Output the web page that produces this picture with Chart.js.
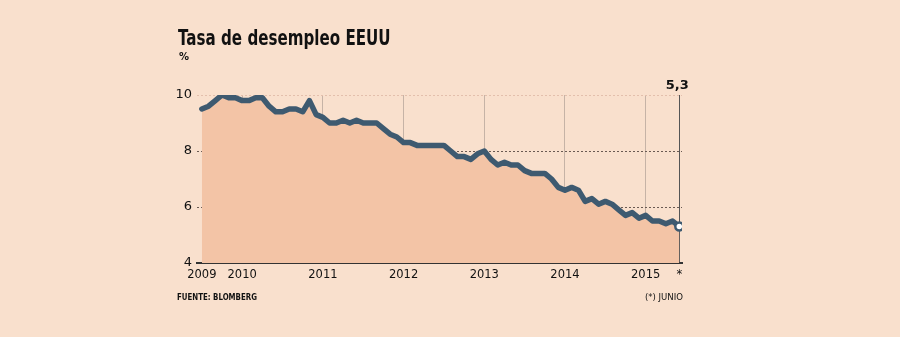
<!DOCTYPE html>
<html>
<head>
<meta charset="utf-8">
<script src="https://cdn.jsdelivr.net/npm/chart.js@4"></script>
<style>
  html, body { margin: 0; padding: 0; background: #f9e0cd; }
  #wrap { position: relative; width: 900px; height: 337px; overflow: hidden; }
  canvas { position: absolute; left: 0; top: 0; }
  .txt { position: absolute; color: #111; white-space: nowrap; font-family: 'DejaVu Sans', sans-serif; transform-origin: left top; }
  #titulo { left: 178px; top: 26px; font-size: 21px; font-weight: bold; transform: scaleX(0.72); }
  #unidad { left: 179px; top: 51px; font-size: 10px; font-weight: bold; }
  #fuente { left: 177px; top: 291px; font-size: 9.5px; font-weight: bold; transform: scaleX(0.74); }
  #nota { left: 630px; width: 53px; text-align: right; top: 291px; font-size: 9.5px; transform: scaleX(0.9); transform-origin: right top; }
</style>
</head>
<body>
<div id="wrap">
  <canvas id="myChart" width="900" height="337"></canvas>
  <div class="txt" id="titulo">Tasa de desempleo EEUU</div>
  <div class="txt" id="unidad">%</div>
  <div class="txt" id="fuente">FUENTE: BLOMBERG</div>
  <div class="txt" id="nota">(*) JUNIO</div>
</div>
<script>
// tasa de desempleo mensual, %, julio 2009 - junio 2015
const anios = [2009, 2010, 2011, 2012, 2013, 2014, 2015]
const mesInicial = [6, 0, 0, 0, 0, 0, 0]   // 2009 empieza en julio
const tasa2009 = [9.5, 9.6, 9.8, 10.0, 9.9, 9.9]
const tasa2010 = [9.8, 9.8, 9.9, 9.9, 9.6, 9.4, 9.4, 9.5, 9.5, 9.4, 9.8, 9.3]
const tasa2011 = [9.2, 9.0, 9.0, 9.1, 9.0, 9.1, 9.0, 9.0, 9.0, 8.8, 8.6, 8.5]
const tasa2012 = [8.3, 8.3, 8.2, 8.2, 8.2, 8.2, 8.2, 8.0, 7.8, 7.8, 7.7, 7.9]
const tasa2013 = [8.0, 7.7, 7.5, 7.6, 7.5, 7.5, 7.3, 7.2, 7.2, 7.2, 7.0, 6.7]
const tasa2014 = [6.6, 6.7, 6.6, 6.2, 6.3, 6.1, 6.2, 6.1, 5.9, 5.7, 5.8, 5.6]
const tasa2015 = [5.7, 5.5, 5.5, 5.4, 5.5, 5.3]
const tasas = [tasa2009, tasa2010, tasa2011, tasa2012, tasa2013, tasa2014, tasa2015]

const yTicks = [4, 6, 8, 10]
const xTickLabels = ['2009', '2010', '2011', '2012', '2013', '2014', '2015', '*']

const puntos = []
anios.forEach((a, i) => {
    tasas[i].forEach((v, m) => {
        puntos.push({ x: a + (mesInicial[i] + m) / 12, y: v })
    })
})
const primero = puntos[0].x
const ultimo = puntos[puntos.length - 1]
const xTicks = [primero, 2010, 2011, 2012, 2013, 2014, 2015, ultimo.x]

const fuenteEje = "'DejaVu Sans', sans-serif"

// etiqueta del ultimo valor ("5,3") sobre la linea final
const etiquetaFinal = {
    id: 'etiquetaFinal',
    afterDraw(chart) {
        const ctx = chart.ctx
        const px = chart.scales.x.getPixelForValue(ultimo.x)
        ctx.save()
        ctx.font = "bold 13px " + fuenteEje
        ctx.fillStyle = '#111'
        ctx.textAlign = 'center'
        ctx.textBaseline = 'alphabetic'
        ctx.fillText(String(ultimo.y).replace('.', ','), px - 2, chart.chartArea.top - 6)
        ctx.restore()
    }
}

const config = {
    type: 'line',
    data: {
        datasets: [{
            data: puntos,
            borderColor: '#3e5a70',
            borderWidth: 5.5,
            borderJoinStyle: 'round',
            borderCapStyle: 'round',
            fill: 'start',
            backgroundColor: '#f3c4a6',
            tension: 0,
            pointRadius: (c) => c.dataIndex === puntos.length - 1 ? 4 : 0,
            pointBackgroundColor: '#ffffff',
            pointBorderColor: '#3e5a70',
            pointBorderWidth: 2.5
        }]
    },
    options: {
        responsive: false,
        devicePixelRatio: 1,
        animation: false,
        layout: { padding: { left: 0, right: 218, top: 95, bottom: 0 } },
        plugins: {
            legend: { display: false },
            tooltip: { enabled: false }
        },
        scales: {
            x: {
                type: 'linear',
                min: 2009.44,
                max: 2015.45,
                afterFit: (s) => { s.height = 74 },
                afterBuildTicks: (s) => { s.ticks = xTicks.map(v => ({ value: v })) },
                ticks: {
                    padding: 5,
                    autoSkip: false,
                    maxRotation: 0,
                    color: '#111',
                    font: { family: fuenteEje, size: 11.5 },
                    callback: (v, i) => xTickLabels[i]
                },
                grid: {
                    drawTicks: false,
                    lineWidth: 1,
                    color: (c) => {
                        const v = c.tick && c.tick.value
                        if (v === primero) return 'rgba(0,0,0,0)'
                        if (v === ultimo.x) return '#555'
                        return '#c6b3a6'
                    }
                },
                border: { display: true, color: '#333', width: 2 }
            },
            y: {
                min: 4,
                max: 10,
                afterFit: (s) => { s.width = 197 },
                afterBuildTicks: (s) => { s.ticks = yTicks.map(v => ({ value: v })) },
                ticks: {
                    padding: 5,
                    color: '#111',
                    font: { family: fuenteEje, size: 13 }
                },
                grid: {
                    drawTicks: false,
                    lineWidth: 1,
                    color: (c) => {
                        const v = c.tick && c.tick.value
                        if (v === 4) return 'rgba(0,0,0,0)'
                        if (v === 10) return '#e3bfac'
                        return '#6a5a52'
                    }
                },
                border: { display: false, dash: [2, 2] }
            }
        }
    },
    plugins: [etiquetaFinal]
}

const myChart = new Chart(document.getElementById('myChart'), config)
</script>
</body>
</html>
